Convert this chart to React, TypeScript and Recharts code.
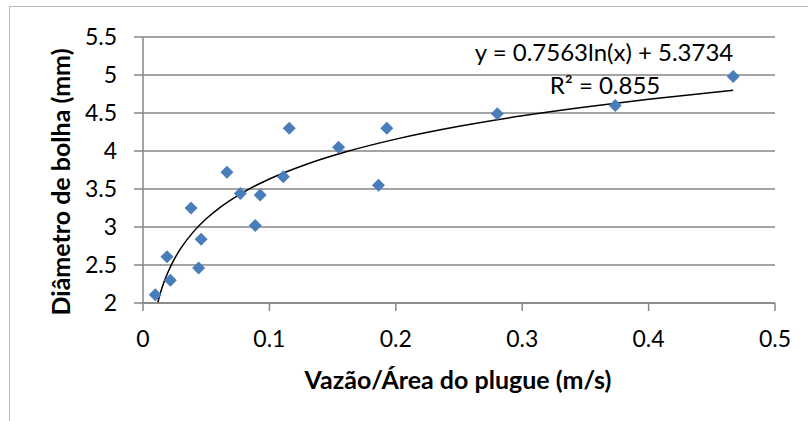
import {
  CartesianGrid,
  Line,
  ComposedChart,
  Scatter,
  XAxis,
  YAxis,
} from "recharts";

// measured points (flow / plug area vs bubble diameter)
const vazao = [
  0.0097, 0.019, 0.0216, 0.038, 0.046, 0.044, 0.0664, 0.077, 0.0927, 0.0888,
  0.111, 0.1157, 0.1547, 0.1863, 0.1929, 0.2803, 0.3736, 0.4669,
];
const diametro = [
  2.11, 2.61, 2.3, 3.25, 2.84, 2.46, 3.72, 3.44, 3.42, 3.02, 3.66, 4.3, 4.05,
  3.55, 4.3, 4.49, 4.6, 4.98,
];

// logarithmic trendline, as drawn
const trendX = [
  0.0116, 0.013, 0.015, 0.0175, 0.02, 0.025, 0.03, 0.04, 0.05, 0.06, 0.08, 0.1,
  0.13, 0.16, 0.2, 0.25, 0.3, 0.35, 0.4, 0.4669,
];
const trendY = [
  2.0, 2.089, 2.197, 2.314, 2.415, 2.584, 2.721, 2.939, 3.108, 3.246, 3.463,
  3.632, 3.83, 3.987, 4.156, 4.325, 4.463, 4.579, 4.68, 4.798,
];

const xTicks = [0, 0.1, 0.2, 0.3, 0.4, 0.5];
const yTicks = [2, 2.5, 3, 3.5, 4, 4.5, 5, 5.5];

const points = vazao.map((x, i) => ({ x, y: diametro[i] }));
const trend = trendX.map((x, i) => ({ x, y: trendY[i] }));

const font = "Lato, 'Open Sans', sans-serif";
const grey = "#868686";

const Diamond = (props: any) => {
  const { cx, cy } = props;
  const r = 6.5;
  return (
    <polygon
      points={`${cx},${cy - r} ${cx + r},${cy} ${cx},${cy + r} ${cx - r},${cy}`}
      fill="#4a7ebb"
    />
  );
};

export default function App() {
  return (
    <div
      style={{
        position: "absolute",
        left: 0,
        top: 0,
        width: 808,
        height: 421,
        background: "#fff",
        overflow: "hidden",
        fontFamily: font,
      }}
    >
      <div
        style={{
          position: "absolute",
          left: 9,
          top: 6,
          width: 900,
          height: 500,
          borderLeft: "1.5px solid #bdbdbd",
          borderTop: "1.5px solid #bdbdbd",
        }}
      />
      <ComposedChart
        width={808}
        height={421}
        margin={{ top: 37, right: 33, bottom: 78, left: 0 }}
        style={{ position: "absolute", left: 0, top: 0 }}
      >
        <CartesianGrid vertical={false} stroke={grey} strokeWidth={1.5} />
        <XAxis
          type="number"
          dataKey="x"
          domain={[0, 0.5]}
          ticks={xTicks}
          height={40}
          stroke={grey}
          strokeWidth={1.5}
          tickSize={8}
          tickMargin={20}
          tick={{ fill: "#000", fontSize: 23, fontFamily: font }}
          allowDataOverflow
        />
        <YAxis
          type="number"
          dataKey="y"
          domain={[2, 5.5]}
          ticks={yTicks}
          width={143}
          stroke={grey}
          strokeWidth={1.5}
          tickSize={9}
          tickMargin={17}
          tick={{ fill: "#000", fontSize: 23, fontFamily: font }}
          allowDataOverflow
        />
        <Scatter
          data={points}
          shape={Diamond}
          isAnimationActive={false}
        />
        <Line
          data={trend}
          dataKey="y"
          type="monotone"
          stroke="#000"
          strokeWidth={1.5}
          dot={false}
          activeDot={false}
          isAnimationActive={false}
        />
      </ComposedChart>
      <div
        style={{
          position: "absolute",
          left: 454,
          top: 37,
          width: 300,
          textAlign: "center",
          fontSize: 24,
          lineHeight: "30px",
        }}
      >
        y = 0.7563ln(x) + 5.3734
      </div>
      <div
        style={{
          position: "absolute",
          left: 455,
          top: 70,
          width: 300,
          textAlign: "center",
          fontSize: 24,
          lineHeight: "30px",
        }}
      >
        R² = 0.855
      </div>
      <div
        style={{
          position: "absolute",
          left: 258,
          top: 364,
          width: 400,
          textAlign: "center",
          fontSize: 25,
          fontWeight: "bold",
          lineHeight: "30px",
        }}
      >
        Vazão/Área do plugue (m/s)
      </div>
      <div
        style={{
          position: "absolute",
          left: 60,
          top: 182,
          width: 320,
          transform: "translate(-50%, -50%) rotate(-90deg)",
          textAlign: "center",
          fontSize: 25,
          fontWeight: "bold",
          lineHeight: "30px",
        }}
      >
        Diâmetro de bolha (mm)
      </div>
    </div>
  );
}
